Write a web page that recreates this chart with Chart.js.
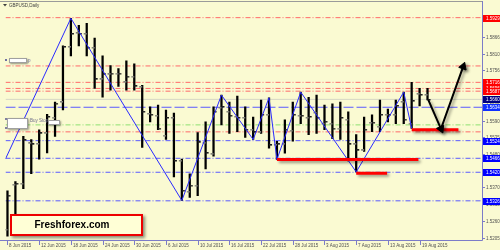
<!DOCTYPE html>
<html>
<head>
<meta charset="utf-8">
<script src="https://cdn.jsdelivr.net/npm/chart.js@4/dist/chart.umd.min.js"></script>
<style>
html, body { margin: 0; padding: 0; background: #fafad2; }
#wrap { width: 500px; height: 250px; }
</style>
</head>
<body>
<div id="wrap"><canvas id="chart" width="500" height="250"></canvas></div>
<script>
// GBPUSD daily bars, 8 Jun - 20 Aug 2015 (one entry per trading day)
const opens = [1.5230, 1.5379, 1.5382, 1.5515, 1.5513, 1.5548, 1.5600, 1.5651, 1.5832, 1.5878,
	1.5875, 1.5829, 1.5726, 1.5742, 1.5745, 1.5716, 1.5735, 1.5700, 1.5612, 1.5606,
	1.5541, 1.5599, 1.5457, 1.5356, 1.5376, 1.5515, 1.5479, 1.5632, 1.5619, 1.5602,
	1.5599, 1.5560, 1.5551, 1.5609, 1.5509, 1.5512, 1.5557, 1.5606, 1.5599, 1.5615,
	1.5580, 1.5580, 1.5564, 1.5593, 1.5512, 1.5492, 1.5583, 1.5570, 1.5609, 1.5609,
	1.5651, 1.5580, 1.5677, 1.5674]
const highs = [1.5359, 1.5389, 1.5538, 1.5528, 1.5560, 1.5611, 1.5651, 1.5836, 1.5927, 1.5904,
	1.5910, 1.5862, 1.5803, 1.5771, 1.5761, 1.5787, 1.5777, 1.5706, 1.5635, 1.5641,
	1.5625, 1.5615, 1.5463, 1.5415, 1.5551, 1.5586, 1.5635, 1.5674, 1.5651, 1.5671,
	1.5635, 1.5602, 1.5658, 1.5665, 1.5522, 1.5593, 1.5651, 1.5684, 1.5667, 1.5674,
	1.5641, 1.5645, 1.5651, 1.5619, 1.5544, 1.5602, 1.5609, 1.5658, 1.5628, 1.5658,
	1.5684, 1.5716, 1.5696, 1.5696]
const lows = [1.5210, 1.5253, 1.5366, 1.5415, 1.5463, 1.5484, 1.5538, 1.5625, 1.5803, 1.5836,
	1.5803, 1.5696, 1.5667, 1.5690, 1.5703, 1.5690, 1.5690, 1.5502, 1.5586, 1.5560,
	1.5528, 1.5405, 1.5327, 1.5337, 1.5343, 1.5431, 1.5473, 1.5576, 1.5548, 1.5554,
	1.5535, 1.5528, 1.5548, 1.5499, 1.5462, 1.5483, 1.5522, 1.5580, 1.5544, 1.5548,
	1.5560, 1.5531, 1.5528, 1.5457, 1.5421, 1.5489, 1.5554, 1.5554, 1.5586, 1.5580,
	1.5580, 1.5564, 1.5638, 1.5658]
const closes = [1.5343, 1.5382, 1.5525, 1.5512, 1.5548, 1.5602, 1.5646, 1.5832, 1.5875, 1.5875,
	1.5829, 1.5726, 1.5742, 1.5745, 1.5745, 1.5735, 1.5703, 1.5619, 1.5609, 1.5564,
	1.5599, 1.5457, 1.5359, 1.5376, 1.5518, 1.5483, 1.5619, 1.5635, 1.5606, 1.5599,
	1.5560, 1.5551, 1.5609, 1.5509, 1.5512, 1.5560, 1.5609, 1.5606, 1.5602, 1.5599,
	1.5586, 1.5564, 1.5599, 1.5512, 1.5492, 1.5560, 1.5583, 1.5609, 1.5609, 1.5638,
	1.5593, 1.5654, 1.5674, 1.5658]

// date labels, one every 4 bars
const dateLabels = ["8 Jun 2015", "12 Jun 2015", "18 Jun 2015", "24 Jun 2015", "30 Jun 2015",
	"6 Jul 2015", "10 Jul 2015", "16 Jul 2015", "22 Jul 2015", "28 Jul 2015",
	"3 Aug 2015", "7 Aug 2015", "13 Aug 2015", "19 Aug 2015"]
const priceTicks = [1.5205, 1.5260, 1.5315, 1.5370, 1.5425, 1.5480, 1.5535, 1.5590,
	1.5645, 1.5700, 1.5756, 1.5810, 1.5866, 1.5920]

// zigzag
const zigBars = [-0.25, 8, 22, 27, 31, 33, 34, 37, 44, 50, 51]
const zigPrices = [1.5464, 1.5927, 1.5327, 1.5674, 1.5528, 1.5665, 1.5462, 1.5684, 1.5421, 1.5684, 1.5564]

// horizontal levels
const resistLevels = [1.5929, 1.5770, 1.5716, 1.5696, 1.5687, 1.5553]
const supportLevels = [1.5524, 1.5466, 1.5420, 1.5326]
const orderLevel = 1.5634
const pivotLevel = 1.5576
const bidLevel = 1.5660

// price tags on the right axis
const tagPrices = [1.5929, 1.5716, 1.5696, 1.5687, 1.5660, 1.5634, 1.5524, 1.5466, 1.5420, 1.5326]
const tagKinds = ["resist", "resist", "resist", "resist", "bid", "order", "support", "support", "support", "support"]

// red support segments drawn from swing lows
const segFrom = [34, 44, 51]
const segTo = [51.85, 47.9, 56.9]
const segPrice = [1.5462, 1.5417, 1.5560]

// forecast arrow
const arrowBars = [53.1, 54.7, 57.5]
const arrowPrices = [1.5658, 1.5563, 1.5768]

const xMin = -0.25, xMax = 59.875
const yMin = 1.5197, yMax = 1.5969

const tagColors = { resist: "#ff0000", bid: "#000080", order: "#1030ff", support: "#0000ff" }

function tickImage(color, left) {
	let c = document.createElement("canvas")
	c.width = 10
	c.height = 2
	let g = c.getContext("2d")
	g.fillStyle = color
	g.fillRect(left ? 2 : 5, 0, 3, 1.5)
	return c
}

function levelSet(p, color, dash) {
	return {
		type: 'line',
		data: [{x: xMin, y: p}, {x: xMax, y: p}],
		borderColor: color,
		borderWidth: 1,
		borderDash: dash,
		pointRadius: 0,
		order: 20,
	}
}

let datasets = []
resistLevels.forEach(p => datasets.push(levelSet(p, "#ff6a6a", [5, 2, 1, 2])))
supportLevels.forEach(p => datasets.push(levelSet(p, "#5a5aff", [5, 2, 1, 2])))
datasets.push(levelSet(orderLevel, "#5a5aff", [10, 3]))
datasets.push(levelSet(pivotLevel, "#8ee070", [5, 2, 1, 2]))
datasets.push(levelSet(bidLevel, "#d6d6c4", []))

datasets.push({
	type: 'bar',
	data: lows.map((l, i) => ({x: i, y: [l, highs[i]]})),
	backgroundColor: "#000000",
	barThickness: 1.6,
	borderWidth: 0,
	order: 10,
})
datasets.push({
	type: 'line',
	data: opens.map((o, i) => ({x: i, y: o})),
	showLine: false,
	pointStyle: tickImage("#808078", true),
	pointRadius: 4,
	order: 9,
})
datasets.push({
	type: 'line',
	data: closes.map((c, i) => ({x: i, y: c})),
	showLine: false,
	pointStyle: tickImage("#202020", false),
	pointRadius: 4,
	order: 9,
})
datasets.push({
	type: 'line',
	data: zigBars.map((b, i) => ({x: b, y: zigPrices[i]})),
	borderColor: "#2a2aff",
	borderWidth: 1,
	pointRadius: 0,
	order: 8,
})
segFrom.forEach((b, i) => {
	datasets.push({
		type: 'line',
		data: [{x: b, y: segPrice[i]}, {x: segTo[i], y: segPrice[i]}],
		borderColor: "#ff0000",
		borderWidth: 3,
		borderCapStyle: 'butt',
		pointRadius: 0,
		shadow: true,
		order: 6,
	})
})
datasets.push({
	type: 'line',
	data: arrowBars.map((b, i) => ({x: b, y: arrowPrices[i]})),
	borderColor: "#000000",
	borderWidth: 2,
	pointRadius: 0,
	shadow: true,
	order: 5,
})
datasets.push({
	type: 'line',
	data: [1, 2].map(i => ({x: arrowBars[i], y: arrowPrices[i]})),
	showLine: false,
	pointStyle: 'triangle',
	pointRadius: 4.5,
	pointRotation: [156, 20],
	pointBackgroundColor: "#000000",
	pointBorderColor: "#000000",
	shadow: true,
	order: 4,
})

let shadowPlugin = {
	id: 'shadow',
	beforeDatasetDraw(chart, args) {
		if (chart.data.datasets[args.index].shadow) {
			let ctx = chart.ctx
			ctx.save()
			ctx.shadowColor = "rgba(0,0,0,0.4)"
			ctx.shadowBlur = 3
			ctx.shadowOffsetX = 2
			ctx.shadowOffsetY = 2
		}
	},
	afterDatasetDraw(chart, args) {
		if (chart.data.datasets[args.index].shadow) {
			chart.ctx.restore()
		}
	},
}

function whiteBox(ctx, x, y, w, h) {
	ctx.save()
	ctx.shadowColor = "rgba(0,0,0,0.4)"
	ctx.shadowBlur = 2
	ctx.shadowOffsetX = 1
	ctx.shadowOffsetY = 1
	ctx.fillStyle = "#ffffff"
	ctx.fillRect(x, y, w, h)
	ctx.restore()
	ctx.strokeStyle = "#a0a0a0"
	ctx.lineWidth = 1
	ctx.strokeRect(x + 0.5, y + 0.5, w - 1, h - 1)
}

let decorPlugin = {
	id: 'decor',
	beforeDraw(chart) {
		let ctx = chart.ctx
		ctx.fillStyle = "#fafad2"
		ctx.fillRect(0, 0, chart.width, chart.height)
	},
	afterDatasetsDraw(chart) {
		let ctx = chart.ctx
		// chart title
		ctx.fillStyle = "#404040"
		ctx.beginPath()
		ctx.moveTo(3, 4); ctx.lineTo(7, 4); ctx.lineTo(5, 6.5); ctx.closePath()
		ctx.fill()
		ctx.font = '4.5px "Liberation Sans"'
		ctx.textBaseline = "middle"
		ctx.textAlign = "left"
		ctx.fillText("GBPUSD,Daily", 9, 5.5)

		// object labels on the left
		whiteBox(ctx, 9, 58, 18, 5)
		ctx.fillStyle = "#7070a0"
		ctx.fillRect(5, 59, 2, 2)
		ctx.fillText("p", 28, 60.5)
		whiteBox(ctx, 7, 118, 21, 11)
		ctx.fillStyle = "#8080a0"
		ctx.fillRect(5, 118, 2, 2)
		ctx.fillRect(5, 127, 2, 2)
		ctx.fillStyle = "#70708a"
		ctx.fillText("Buy Stop", 30, 121)
		whiteBox(ctx, 48, 120, 12, 5)

		// watermark
		ctx.save()
		ctx.shadowColor = "rgba(0,0,0,0.45)"
		ctx.shadowBlur = 3
		ctx.shadowOffsetX = 2
		ctx.shadowOffsetY = 2
		ctx.fillStyle = "#ffffd6"
		ctx.fillRect(10, 214, 133, 22)
		ctx.restore()
		ctx.strokeStyle = "#ee0000"
		ctx.lineWidth = 2
		ctx.strokeRect(11, 215, 131, 20)
		ctx.fillStyle = "#000000"
		ctx.font = 'bold 10px "Liberation Sans"'
		ctx.textAlign = "center"
		ctx.fillText("Freshforex.com", 72, 225.5)
	},
	afterDraw(chart) {
		let ctx = chart.ctx
		let x = chart.scales.x
		let y = chart.scales.y
		let area = chart.chartArea
		ctx.save()
		// frame
		ctx.strokeStyle = "#9a9a9a"
		ctx.lineWidth = 1
		ctx.beginPath()
		ctx.moveTo(0, 1.5); ctx.lineTo(area.right, 1.5)
		ctx.stroke()
		ctx.strokeStyle = "#7c7cc8"
		ctx.beginPath()
		ctx.moveTo(area.right + 0.5, 1); ctx.lineTo(area.right + 0.5, area.bottom + 0.5)
		ctx.lineTo(0, area.bottom + 0.5)
		ctx.stroke()

		// price scale
		ctx.font = '4.5px "Liberation Sans"'
		ctx.textBaseline = "middle"
		ctx.textAlign = "left"
		priceTicks.forEach(p => {
			let py = Math.round(y.getPixelForValue(p)) + 0.5
			ctx.strokeStyle = "#7c7cc8"
			ctx.beginPath()
			ctx.moveTo(area.right, py); ctx.lineTo(area.right + 3, py)
			ctx.stroke()
			ctx.fillStyle = "#505050"
			ctx.fillText(p.toFixed(4), area.right + 4, py)
		})

		// time scale
		dateLabels.forEach((d, i) => {
			let px = Math.round(x.getPixelForValue(i * 4)) + 0.5
			ctx.strokeStyle = "#7c7cc8"
			ctx.beginPath()
			ctx.moveTo(px, area.bottom); ctx.lineTo(px, area.bottom + 5)
			ctx.stroke()
			ctx.fillStyle = "#505050"
			ctx.fillText(d, px + 1.5, area.bottom + 5.5)
		})

		// price tags
		tagPrices.forEach((p, i) => {
			let py = y.getPixelForValue(p)
			ctx.fillStyle = tagColors[tagKinds[i]]
			ctx.fillRect(area.right + 1, Math.round(py) - 3, chart.width - area.right - 1, 7)
			ctx.fillStyle = "#ffffff"
			ctx.fillText(p.toFixed(4), area.right + 4, Math.round(py) + 0.5)
		})
		ctx.restore()
	},
}

let chart = new Chart(document.getElementById("chart"), {
	data: { datasets: datasets },
	options: {
		animation: false,
		responsive: false,
		devicePixelRatio: 1,
		layout: { padding: { left: 0, top: 2, right: 18, bottom: 10 } },
		plugins: { legend: { display: false }, tooltip: { enabled: false } },
		events: [],
		scales: {
			x: { type: 'linear', min: xMin, max: xMax, offset: false, display: false },
			y: { type: 'linear', min: yMin, max: yMax, display: false },
		},
	},
	plugins: [shadowPlugin, decorPlugin],
});
</script>
</body>
</html>
